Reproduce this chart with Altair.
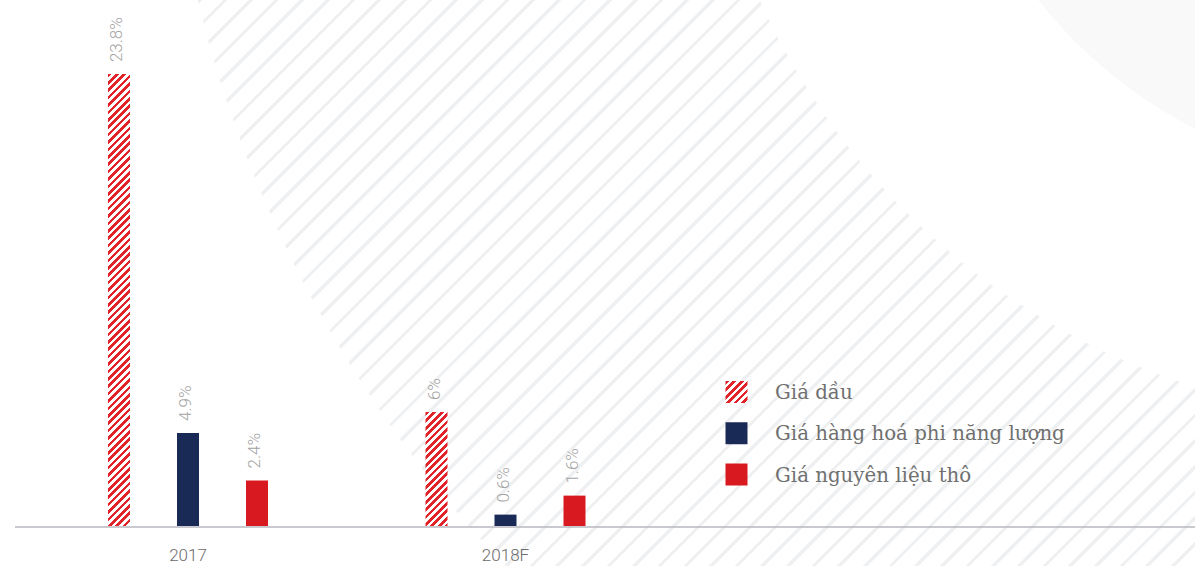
import math
import altair as alt
import pandas as pd

# ---------------- data ----------------
years = ["2017", "2018F"]
series = ["Giá dầu", "Giá hàng hoá phi năng lượng", "Giá nguyên liệu thô"]
oil = [23.8, 6.0]
non_energy = [4.9, 0.6]
raw_material = [2.4, 1.6]

rows = []
for i, yr in enumerate(years):
    for s, vals in zip(series, [oil, non_energy, raw_material]):
        rows.append({"year": yr, "series": s, "value": vals[i]})
df = pd.DataFrame(rows)

# ---------------- styling ----------------
W, H = 1180, 526
YMAX = 27.7
BAR_W = 22.0
NAVY = "#1a2a56"
RED = "#d8191f"
HATCH_RED = "#e1232a"
STRIPE_GRAY = "#eef0f2"
DISK_GRAY = "#f9f9f9"


def hatch(w, h, period=7.4, frac=0.5, c1=HATCH_RED, c2="#ffffff"):
    L = w + h
    den = w * w + h * h
    stops = []
    k = 0
    while k * period < L:
        a = round(k * period / L, 6)
        b = round(min((k * period + period * frac) / L, 1), 6)
        c = round(min((k + 1) * period / L, 1), 6)
        stops += [
            {"offset": a, "color": c1},
            {"offset": b, "color": c1},
            {"offset": b, "color": c2},
            {"offset": c, "color": c2},
        ]
        k += 1
    return {"gradient": "linear", "x1": 0, "y1": 0,
            "x2": round(w * L / den, 6), "y2": round(h * L / den, 6),
            "stops": stops}


# background decoration: striped ring + grey disk, concentric
CX, CY = 1394, -292
R_OUT, R_IN, R_DISK = 1246, 712, 472


def ring_stripes(period=25.65, thick=4.6, phase=749.0):
    x0, y0 = CX - R_OUT, CY - R_OUT
    S2 = 4.0 * R_OUT
    clear = "rgba(255,255,255,0)"
    stops = [{"offset": 0, "color": clear}]
    for k in range(-32, 42):
        s = phase + period * k
        a = round((s - thick / 2 - x0 - y0) / S2, 6)
        b = round((s + thick / 2 - x0 - y0) / S2, 6)
        stops += [
            {"offset": a, "color": clear},
            {"offset": a, "color": STRIPE_GRAY},
            {"offset": b, "color": STRIPE_GRAY},
            {"offset": b, "color": clear},
        ]
    stops.append({"offset": 1, "color": clear})
    return {"gradient": "linear", "x1": 0, "y1": 0, "x2": 1, "y2": 1, "stops": stops}


one = pd.DataFrame({"k": [0]})
ring = alt.Chart(one).mark_arc(
    radius=R_OUT, radius2=R_IN, theta=0, theta2=6.2832, fill=ring_stripes()
).encode(x=alt.value(CX), y=alt.value(CY))
disk = alt.Chart(one).mark_arc(
    radius=R_DISK, theta=0, theta2=6.2832, fill=DISK_GRAY
).encode(x=alt.value(CX), y=alt.value(CY))

# ---------------- scales ----------------
step_group = 317.5
bw_group = 3 * 69
pi_x = 1 - bw_group / step_group
r0 = 173 - bw_group / 2
r1 = r0 + step_group * (2 - pi_x)

xscale = alt.Scale(domain=years, paddingInner=pi_x, paddingOuter=0, range=[r0, r1])
pi_o = 1 - BAR_W / 69
offscale = alt.Scale(domain=series, paddingInner=pi_o, paddingOuter=pi_o / 2)
yscale = alt.Scale(domain=[0, YMAX], nice=False, zero=True)

xaxis = alt.Axis(title=None, ticks=False, labelAngle=0, domain=False,
                 labelFont="Roboto", labelFontSize=17, labelFontWeight=300,
                 labelColor="#6b6b6b", labelPadding=21, zindex=1, grid=False)

base = alt.Chart(df).encode(
    x=alt.X("year:N", scale=xscale, axis=xaxis),
    xOffset=alt.XOffset("series:N", scale=offscale, sort=series),
    y=alt.Y("value:Q", scale=yscale, axis=None),
)

# baseline across the full plot width
baseline = alt.Chart(one).mark_rule(color="#b7b7bf", strokeWidth=1.5).encode(
    x=alt.value(0), x2=alt.value(W), y=alt.value(H + 1)
)

solid = base.transform_filter(alt.datum.series != series[0]).mark_bar().encode(
    fill=alt.Fill("series:N", scale=alt.Scale(domain=series[1:], range=[NAVY, RED]),
                  legend=None)
)

hatched_layers = []
for i, yr in enumerate(years):
    h = oil[i] / YMAX * H
    hatched_layers.append(
        base.transform_filter(
            (alt.datum.series == series[0]) & (alt.datum.year == yr)
        ).mark_bar(fill=hatch(BAR_W, h))
    )

labels = base.transform_calculate(
    label="format(datum.value, '.1~f') + '%'"
).mark_text(angle=270, align="left", baseline="middle", dx=12, dy=-2,
            font="Roboto", fontSize=17, fontWeight=300, color="#a3a3a3").encode(
    text="label:N"
)

# ---------------- legend (custom) ----------------
legend_layers = []
leg_fills = [hatch(22, 22, period=7.4), NAVY, RED]
for i, s in enumerate(series):
    yy = 392 + 41.25 * i
    d = pd.DataFrame({"s": [s]})
    legend_layers.append(
        alt.Chart(d).mark_square(size=484, fill=leg_fills[i], opacity=1, strokeWidth=0)
        .encode(x=alt.value(721.5), y=alt.value(yy))
    )
    legend_layers.append(
        alt.Chart(d).mark_text(align="left", baseline="middle", font="DejaVu Serif",
                               fontSize=19.8, color="#707070")
        .encode(x=alt.value(760), y=alt.value(yy + 1), text="s:N")
    )

chart = alt.layer(
    ring, disk, baseline, solid, *hatched_layers, labels, *legend_layers
).properties(
    width=W, height=H,
    padding={"left": 15, "right": 0, "top": 0, "bottom": 40},
    autosize=alt.AutoSizeParams(type="none"),
    background="white",
).configure_view(stroke=None)

chart.save("out.html", embed_options={"renderer": "svg", "actions": False})
